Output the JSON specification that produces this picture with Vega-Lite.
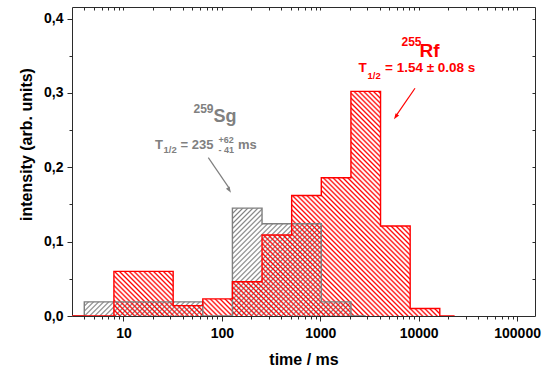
{
  "$schema": "https://vega.github.io/schema/vega-lite/v6.json",
  "width": 463,
  "height": 309,
  "autosize": {"type": "none"},
  "padding": {"left": 72, "top": 7, "right": 12, "bottom": 54},
  "background": "white",
  "view": {"stroke": "#2b2b2b", "strokeWidth": 1},
  "config": {
    "font": "Liberation Sans",
    "axis": {
      "domain": false,
      "grid": false,
      "labelFont": "Liberation Sans",
      "labelFontWeight": "bold",
      "labelFontSize": 14,
      "labelColor": "black",
      "tickColor": "#2b2b2b",
      "tickWidth": 1,
      "titleFont": "Liberation Sans",
      "titleFontWeight": "bold",
      "titleFontSize": 16,
      "titleColor": "black"
    }
  },
  "datasets": {
    "sg259": [
      {"t": 2.828, "v": 0},
      {"t": 5.657, "v": 0.019},
      {"t": 11.31, "v": 0.019},
      {"t": 22.63, "v": 0.019},
      {"t": 45.25, "v": 0.019},
      {"t": 90.51, "v": 0},
      {"t": 181.0, "v": 0.145},
      {"t": 362.0, "v": 0.124},
      {"t": 724.1, "v": 0.124},
      {"t": 1448.2, "v": 0.019},
      {"t": 2896.3, "v": 0}
    ],
    "rf255": [
      {"t": 2.828, "v": 0},
      {"t": 5.657, "v": 0},
      {"t": 11.31, "v": 0.06},
      {"t": 22.63, "v": 0.06},
      {"t": 45.25, "v": 0.014},
      {"t": 90.51, "v": 0.023},
      {"t": 181.0, "v": 0.046},
      {"t": 362.0, "v": 0.109},
      {"t": 724.1, "v": 0.162},
      {"t": 1448.2, "v": 0.186},
      {"t": 2896.3, "v": 0.302},
      {"t": 5792.6, "v": 0.121},
      {"t": 11585.2, "v": 0.010},
      {"t": 23170.5, "v": 0}
    ]
  },
  "data": {"values": [{}]},
  "resolve": {"axis": {"x": "independent", "y": "independent"}},
  "layer": [
    {
      "data": {"name": "sg259"},
      "mark": {
        "type": "area", "interpolate": "step", "clip": true,
        "fill": {
          "gradient": "linear", "x1": 0, "y1": 0, "x2": 1.2044, "y2": 0.4383,
          "stops": [
            {"offset":0,"color":"#8880"},{"offset":0.004,"color":"gray"},{"offset":0.008,"color":"#8880"},
            {"offset":0.0125,"color":"#8880"},{"offset":0.0165,"color":"gray"},{"offset":0.0205,"color":"#8880"},
            {"offset":0.025,"color":"#8880"},{"offset":0.029,"color":"gray"},{"offset":0.033,"color":"#8880"},
            {"offset":0.0375,"color":"#8880"},{"offset":0.0415,"color":"gray"},{"offset":0.0455,"color":"#8880"},
            {"offset":0.05,"color":"#8880"},{"offset":0.054,"color":"gray"},{"offset":0.058,"color":"#8880"},
            {"offset":0.0625,"color":"#8880"},{"offset":0.0665,"color":"gray"},{"offset":0.0705,"color":"#8880"},
            {"offset":0.075,"color":"#8880"},{"offset":0.079,"color":"gray"},{"offset":0.083,"color":"#8880"},
            {"offset":0.0875,"color":"#8880"},{"offset":0.0915,"color":"gray"},{"offset":0.0955,"color":"#8880"},
            {"offset":0.1,"color":"#8880"},{"offset":0.104,"color":"gray"},{"offset":0.108,"color":"#8880"},
            {"offset":0.1125,"color":"#8880"},{"offset":0.1165,"color":"gray"},{"offset":0.1205,"color":"#8880"},
            {"offset":0.125,"color":"#8880"},{"offset":0.129,"color":"gray"},{"offset":0.133,"color":"#8880"},
            {"offset":0.1375,"color":"#8880"},{"offset":0.1415,"color":"gray"},{"offset":0.1455,"color":"#8880"},
            {"offset":0.15,"color":"#8880"},{"offset":0.154,"color":"gray"},{"offset":0.158,"color":"#8880"},
            {"offset":0.1625,"color":"#8880"},{"offset":0.1665,"color":"gray"},{"offset":0.1705,"color":"#8880"},
            {"offset":0.175,"color":"#8880"},{"offset":0.179,"color":"gray"},{"offset":0.183,"color":"#8880"},
            {"offset":0.1875,"color":"#8880"},{"offset":0.1915,"color":"gray"},{"offset":0.1955,"color":"#8880"},
            {"offset":0.2,"color":"#8880"},{"offset":0.204,"color":"gray"},{"offset":0.208,"color":"#8880"},
            {"offset":0.2125,"color":"#8880"},{"offset":0.2165,"color":"gray"},{"offset":0.2205,"color":"#8880"},
            {"offset":0.225,"color":"#8880"},{"offset":0.229,"color":"gray"},{"offset":0.233,"color":"#8880"},
            {"offset":0.2375,"color":"#8880"},{"offset":0.2415,"color":"gray"},{"offset":0.2455,"color":"#8880"},
            {"offset":0.25,"color":"#8880"},{"offset":0.254,"color":"gray"},{"offset":0.258,"color":"#8880"},
            {"offset":0.2625,"color":"#8880"},{"offset":0.2665,"color":"gray"},{"offset":0.2705,"color":"#8880"},
            {"offset":0.275,"color":"#8880"},{"offset":0.279,"color":"gray"},{"offset":0.283,"color":"#8880"},
            {"offset":0.2875,"color":"#8880"},{"offset":0.2915,"color":"gray"},{"offset":0.2955,"color":"#8880"},
            {"offset":0.3,"color":"#8880"},{"offset":0.304,"color":"gray"},{"offset":0.308,"color":"#8880"},
            {"offset":0.3125,"color":"#8880"},{"offset":0.3165,"color":"gray"},{"offset":0.3205,"color":"#8880"},
            {"offset":0.325,"color":"#8880"},{"offset":0.329,"color":"gray"},{"offset":0.333,"color":"#8880"},
            {"offset":0.3375,"color":"#8880"},{"offset":0.3415,"color":"gray"},{"offset":0.3455,"color":"#8880"},
            {"offset":0.35,"color":"#8880"},{"offset":0.354,"color":"gray"},{"offset":0.358,"color":"#8880"},
            {"offset":0.3625,"color":"#8880"},{"offset":0.3665,"color":"gray"},{"offset":0.3705,"color":"#8880"},
            {"offset":0.375,"color":"#8880"},{"offset":0.379,"color":"gray"},{"offset":0.383,"color":"#8880"},
            {"offset":0.3875,"color":"#8880"},{"offset":0.3915,"color":"gray"},{"offset":0.3955,"color":"#8880"},
            {"offset":0.4,"color":"#8880"},{"offset":0.404,"color":"gray"},{"offset":0.408,"color":"#8880"},
            {"offset":0.4125,"color":"#8880"},{"offset":0.4165,"color":"gray"},{"offset":0.4205,"color":"#8880"},
            {"offset":0.425,"color":"#8880"},{"offset":0.429,"color":"gray"},{"offset":0.433,"color":"#8880"},
            {"offset":0.4375,"color":"#8880"},{"offset":0.4415,"color":"gray"},{"offset":0.4455,"color":"#8880"},
            {"offset":0.45,"color":"#8880"},{"offset":0.454,"color":"gray"},{"offset":0.458,"color":"#8880"},
            {"offset":0.4625,"color":"#8880"},{"offset":0.4665,"color":"gray"},{"offset":0.4705,"color":"#8880"},
            {"offset":0.475,"color":"#8880"},{"offset":0.479,"color":"gray"},{"offset":0.483,"color":"#8880"},
            {"offset":0.4875,"color":"#8880"},{"offset":0.4915,"color":"gray"},{"offset":0.4955,"color":"#8880"},
            {"offset":0.5,"color":"#8880"},{"offset":0.504,"color":"gray"},{"offset":0.508,"color":"#8880"},
            {"offset":0.5125,"color":"#8880"},{"offset":0.5165,"color":"gray"},{"offset":0.5205,"color":"#8880"},
            {"offset":0.525,"color":"#8880"},{"offset":0.529,"color":"gray"},{"offset":0.533,"color":"#8880"},
            {"offset":0.5375,"color":"#8880"},{"offset":0.5415,"color":"gray"},{"offset":0.5455,"color":"#8880"},
            {"offset":0.55,"color":"#8880"},{"offset":0.554,"color":"gray"},{"offset":0.558,"color":"#8880"},
            {"offset":0.5625,"color":"#8880"},{"offset":0.5665,"color":"gray"},{"offset":0.5705,"color":"#8880"},
            {"offset":0.575,"color":"#8880"},{"offset":0.579,"color":"gray"},{"offset":0.583,"color":"#8880"},
            {"offset":0.5875,"color":"#8880"},{"offset":0.5915,"color":"gray"},{"offset":0.5955,"color":"#8880"},
            {"offset":0.6,"color":"#8880"},{"offset":0.604,"color":"gray"},{"offset":0.608,"color":"#8880"},
            {"offset":0.6125,"color":"#8880"},{"offset":0.6165,"color":"gray"},{"offset":0.6205,"color":"#8880"},
            {"offset":0.625,"color":"#8880"},{"offset":0.629,"color":"gray"},{"offset":0.633,"color":"#8880"},
            {"offset":0.6375,"color":"#8880"},{"offset":0.6415,"color":"gray"},{"offset":0.6455,"color":"#8880"},
            {"offset":0.65,"color":"#8880"},{"offset":0.654,"color":"gray"},{"offset":0.658,"color":"#8880"},
            {"offset":0.6625,"color":"#8880"},{"offset":0.6665,"color":"gray"},{"offset":0.6705,"color":"#8880"},
            {"offset":0.675,"color":"#8880"},{"offset":0.679,"color":"gray"},{"offset":0.683,"color":"#8880"},
            {"offset":0.6875,"color":"#8880"},{"offset":0.6915,"color":"gray"},{"offset":0.6955,"color":"#8880"},
            {"offset":0.7,"color":"#8880"},{"offset":0.704,"color":"gray"},{"offset":0.708,"color":"#8880"},
            {"offset":0.7125,"color":"#8880"},{"offset":0.7165,"color":"gray"},{"offset":0.7205,"color":"#8880"},
            {"offset":0.725,"color":"#8880"},{"offset":0.729,"color":"gray"},{"offset":0.733,"color":"#8880"},
            {"offset":0.7375,"color":"#8880"},{"offset":0.7415,"color":"gray"},{"offset":0.7455,"color":"#8880"},
            {"offset":0.75,"color":"#8880"},{"offset":0.754,"color":"gray"},{"offset":0.758,"color":"#8880"},
            {"offset":0.7625,"color":"#8880"},{"offset":0.7665,"color":"gray"},{"offset":0.7705,"color":"#8880"},
            {"offset":0.775,"color":"#8880"},{"offset":0.779,"color":"gray"},{"offset":0.783,"color":"#8880"},
            {"offset":0.7875,"color":"#8880"},{"offset":0.7915,"color":"gray"},{"offset":0.7955,"color":"#8880"},
            {"offset":0.8,"color":"#8880"},{"offset":0.804,"color":"gray"},{"offset":0.808,"color":"#8880"},
            {"offset":0.8125,"color":"#8880"},{"offset":0.8165,"color":"gray"},{"offset":0.8205,"color":"#8880"},
            {"offset":0.825,"color":"#8880"},{"offset":0.829,"color":"gray"},{"offset":0.833,"color":"#8880"},
            {"offset":0.8375,"color":"#8880"},{"offset":0.8415,"color":"gray"},{"offset":0.8455,"color":"#8880"},
            {"offset":0.85,"color":"#8880"},{"offset":0.854,"color":"gray"},{"offset":0.858,"color":"#8880"},
            {"offset":0.8625,"color":"#8880"},{"offset":0.8665,"color":"gray"},{"offset":0.8705,"color":"#8880"},
            {"offset":0.875,"color":"#8880"},{"offset":0.879,"color":"gray"},{"offset":0.883,"color":"#8880"},
            {"offset":0.8875,"color":"#8880"},{"offset":0.8915,"color":"gray"},{"offset":0.8955,"color":"#8880"},
            {"offset":0.9,"color":"#8880"},{"offset":0.904,"color":"gray"},{"offset":0.908,"color":"#8880"},
            {"offset":0.9125,"color":"#8880"},{"offset":0.9165,"color":"gray"},{"offset":0.9205,"color":"#8880"},
            {"offset":0.925,"color":"#8880"},{"offset":0.929,"color":"gray"},{"offset":0.933,"color":"#8880"},
            {"offset":0.9375,"color":"#8880"},{"offset":0.9415,"color":"gray"},{"offset":0.9455,"color":"#8880"},
            {"offset":0.95,"color":"#8880"},{"offset":0.954,"color":"gray"},{"offset":0.958,"color":"#8880"},
            {"offset":0.9625,"color":"#8880"},{"offset":0.9665,"color":"gray"},{"offset":0.9705,"color":"#8880"},
            {"offset":0.975,"color":"#8880"},{"offset":0.979,"color":"gray"},{"offset":0.983,"color":"#8880"},
            {"offset":0.9875,"color":"#8880"},{"offset":0.9915,"color":"gray"},{"offset":0.9955,"color":"#8880"}
          ]
        }
      },
      "encoding": {
        "x": {
          "field": "t", "type": "quantitative",
          "scale": {"type": "log", "domain": [3, 152000], "nice": false},
          "axis": {
            "orient": "bottom", "values": [10, 100, 1000, 10000, 100000], "format": "d",
            "tickSize": 5, "labelPadding": 5, "labelFlush": false, "labelOverlap": false,
            "title": "time / ms", "titleX": 231.5, "titleY": 48, "titleBaseline": "alphabetic", "titleAlign": "center"
          }
        },
        "y": {
          "field": "v", "type": "quantitative",
          "scale": {"domain": [0, 0.4155], "nice": false, "zero": false},
          "axis": {
            "orient": "left", "values": [0, 0.1, 0.2, 0.3, 0.4],
            "labelExpr": "replace(format(datum.value, '.1f'), '.', ',')",
            "tickSize": 5, "labelPadding": 4,
            "title": "intensity (arb. units)", "titleX": -41, "titleY": 137,
            "titleAngle": -90, "titleBaseline": "alphabetic", "titleAlign": "center"
          }
        }
      }
    },
    {
      "data": {"name": "rf255"},
      "mark": {
        "type": "area", "interpolate": "step", "clip": true,
        "fill": {
          "gradient": "linear", "x1": 0, "y1": 1, "x2": 1.1814, "y2": 0.3111,
          "stops": [
            {"offset":0,"color":"#f000"},{"offset":0.003,"color":"red"},{"offset":0.006,"color":"#f000"},
            {"offset":0.008,"color":"#f000"},{"offset":0.011,"color":"red"},{"offset":0.014,"color":"#f000"},
            {"offset":0.016,"color":"#f000"},{"offset":0.019,"color":"red"},{"offset":0.022,"color":"#f000"},
            {"offset":0.024,"color":"#f000"},{"offset":0.027,"color":"red"},{"offset":0.030,"color":"#f000"},
            {"offset":0.032,"color":"#f000"},{"offset":0.035,"color":"red"},{"offset":0.038,"color":"#f000"},
            {"offset":0.040,"color":"#f000"},{"offset":0.043,"color":"red"},{"offset":0.046,"color":"#f000"},
            {"offset":0.048,"color":"#f000"},{"offset":0.051,"color":"red"},{"offset":0.054,"color":"#f000"},
            {"offset":0.056,"color":"#f000"},{"offset":0.059,"color":"red"},{"offset":0.062,"color":"#f000"},
            {"offset":0.064,"color":"#f000"},{"offset":0.067,"color":"red"},{"offset":0.070,"color":"#f000"},
            {"offset":0.072,"color":"#f000"},{"offset":0.075,"color":"red"},{"offset":0.078,"color":"#f000"},
            {"offset":0.080,"color":"#f000"},{"offset":0.083,"color":"red"},{"offset":0.086,"color":"#f000"},
            {"offset":0.088,"color":"#f000"},{"offset":0.091,"color":"red"},{"offset":0.094,"color":"#f000"},
            {"offset":0.096,"color":"#f000"},{"offset":0.099,"color":"red"},{"offset":0.102,"color":"#f000"},
            {"offset":0.104,"color":"#f000"},{"offset":0.107,"color":"red"},{"offset":0.110,"color":"#f000"},
            {"offset":0.112,"color":"#f000"},{"offset":0.115,"color":"red"},{"offset":0.118,"color":"#f000"},
            {"offset":0.120,"color":"#f000"},{"offset":0.123,"color":"red"},{"offset":0.126,"color":"#f000"},
            {"offset":0.128,"color":"#f000"},{"offset":0.131,"color":"red"},{"offset":0.134,"color":"#f000"},
            {"offset":0.136,"color":"#f000"},{"offset":0.139,"color":"red"},{"offset":0.142,"color":"#f000"},
            {"offset":0.144,"color":"#f000"},{"offset":0.147,"color":"red"},{"offset":0.150,"color":"#f000"},
            {"offset":0.152,"color":"#f000"},{"offset":0.155,"color":"red"},{"offset":0.158,"color":"#f000"},
            {"offset":0.160,"color":"#f000"},{"offset":0.163,"color":"red"},{"offset":0.166,"color":"#f000"},
            {"offset":0.168,"color":"#f000"},{"offset":0.171,"color":"red"},{"offset":0.174,"color":"#f000"},
            {"offset":0.176,"color":"#f000"},{"offset":0.179,"color":"red"},{"offset":0.182,"color":"#f000"},
            {"offset":0.184,"color":"#f000"},{"offset":0.187,"color":"red"},{"offset":0.190,"color":"#f000"},
            {"offset":0.192,"color":"#f000"},{"offset":0.195,"color":"red"},{"offset":0.198,"color":"#f000"},
            {"offset":0.200,"color":"#f000"},{"offset":0.203,"color":"red"},{"offset":0.206,"color":"#f000"},
            {"offset":0.208,"color":"#f000"},{"offset":0.211,"color":"red"},{"offset":0.214,"color":"#f000"},
            {"offset":0.216,"color":"#f000"},{"offset":0.219,"color":"red"},{"offset":0.222,"color":"#f000"},
            {"offset":0.224,"color":"#f000"},{"offset":0.227,"color":"red"},{"offset":0.230,"color":"#f000"},
            {"offset":0.232,"color":"#f000"},{"offset":0.235,"color":"red"},{"offset":0.238,"color":"#f000"},
            {"offset":0.240,"color":"#f000"},{"offset":0.243,"color":"red"},{"offset":0.246,"color":"#f000"},
            {"offset":0.248,"color":"#f000"},{"offset":0.251,"color":"red"},{"offset":0.254,"color":"#f000"},
            {"offset":0.256,"color":"#f000"},{"offset":0.259,"color":"red"},{"offset":0.262,"color":"#f000"},
            {"offset":0.264,"color":"#f000"},{"offset":0.267,"color":"red"},{"offset":0.270,"color":"#f000"},
            {"offset":0.272,"color":"#f000"},{"offset":0.275,"color":"red"},{"offset":0.278,"color":"#f000"},
            {"offset":0.280,"color":"#f000"},{"offset":0.283,"color":"red"},{"offset":0.286,"color":"#f000"},
            {"offset":0.288,"color":"#f000"},{"offset":0.291,"color":"red"},{"offset":0.294,"color":"#f000"},
            {"offset":0.296,"color":"#f000"},{"offset":0.299,"color":"red"},{"offset":0.302,"color":"#f000"},
            {"offset":0.304,"color":"#f000"},{"offset":0.307,"color":"red"},{"offset":0.310,"color":"#f000"},
            {"offset":0.312,"color":"#f000"},{"offset":0.315,"color":"red"},{"offset":0.318,"color":"#f000"},
            {"offset":0.320,"color":"#f000"},{"offset":0.323,"color":"red"},{"offset":0.326,"color":"#f000"},
            {"offset":0.328,"color":"#f000"},{"offset":0.331,"color":"red"},{"offset":0.334,"color":"#f000"},
            {"offset":0.336,"color":"#f000"},{"offset":0.339,"color":"red"},{"offset":0.342,"color":"#f000"},
            {"offset":0.344,"color":"#f000"},{"offset":0.347,"color":"red"},{"offset":0.350,"color":"#f000"},
            {"offset":0.352,"color":"#f000"},{"offset":0.355,"color":"red"},{"offset":0.358,"color":"#f000"},
            {"offset":0.360,"color":"#f000"},{"offset":0.363,"color":"red"},{"offset":0.366,"color":"#f000"},
            {"offset":0.368,"color":"#f000"},{"offset":0.371,"color":"red"},{"offset":0.374,"color":"#f000"},
            {"offset":0.376,"color":"#f000"},{"offset":0.379,"color":"red"},{"offset":0.382,"color":"#f000"},
            {"offset":0.384,"color":"#f000"},{"offset":0.387,"color":"red"},{"offset":0.390,"color":"#f000"},
            {"offset":0.392,"color":"#f000"},{"offset":0.395,"color":"red"},{"offset":0.398,"color":"#f000"},
            {"offset":0.400,"color":"#f000"},{"offset":0.403,"color":"red"},{"offset":0.406,"color":"#f000"},
            {"offset":0.408,"color":"#f000"},{"offset":0.411,"color":"red"},{"offset":0.414,"color":"#f000"},
            {"offset":0.416,"color":"#f000"},{"offset":0.419,"color":"red"},{"offset":0.422,"color":"#f000"},
            {"offset":0.424,"color":"#f000"},{"offset":0.427,"color":"red"},{"offset":0.430,"color":"#f000"},
            {"offset":0.432,"color":"#f000"},{"offset":0.435,"color":"red"},{"offset":0.438,"color":"#f000"},
            {"offset":0.440,"color":"#f000"},{"offset":0.443,"color":"red"},{"offset":0.446,"color":"#f000"},
            {"offset":0.448,"color":"#f000"},{"offset":0.451,"color":"red"},{"offset":0.454,"color":"#f000"},
            {"offset":0.456,"color":"#f000"},{"offset":0.459,"color":"red"},{"offset":0.462,"color":"#f000"},
            {"offset":0.464,"color":"#f000"},{"offset":0.467,"color":"red"},{"offset":0.470,"color":"#f000"},
            {"offset":0.472,"color":"#f000"},{"offset":0.475,"color":"red"},{"offset":0.478,"color":"#f000"},
            {"offset":0.480,"color":"#f000"},{"offset":0.483,"color":"red"},{"offset":0.486,"color":"#f000"},
            {"offset":0.488,"color":"#f000"},{"offset":0.491,"color":"red"},{"offset":0.494,"color":"#f000"},
            {"offset":0.496,"color":"#f000"},{"offset":0.499,"color":"red"},{"offset":0.502,"color":"#f000"},
            {"offset":0.504,"color":"#f000"},{"offset":0.507,"color":"red"},{"offset":0.510,"color":"#f000"},
            {"offset":0.512,"color":"#f000"},{"offset":0.515,"color":"red"},{"offset":0.518,"color":"#f000"},
            {"offset":0.520,"color":"#f000"},{"offset":0.523,"color":"red"},{"offset":0.526,"color":"#f000"},
            {"offset":0.528,"color":"#f000"},{"offset":0.531,"color":"red"},{"offset":0.534,"color":"#f000"},
            {"offset":0.536,"color":"#f000"},{"offset":0.539,"color":"red"},{"offset":0.542,"color":"#f000"},
            {"offset":0.544,"color":"#f000"},{"offset":0.547,"color":"red"},{"offset":0.550,"color":"#f000"},
            {"offset":0.552,"color":"#f000"},{"offset":0.555,"color":"red"},{"offset":0.558,"color":"#f000"},
            {"offset":0.560,"color":"#f000"},{"offset":0.563,"color":"red"},{"offset":0.566,"color":"#f000"},
            {"offset":0.568,"color":"#f000"},{"offset":0.571,"color":"red"},{"offset":0.574,"color":"#f000"},
            {"offset":0.576,"color":"#f000"},{"offset":0.579,"color":"red"},{"offset":0.582,"color":"#f000"},
            {"offset":0.584,"color":"#f000"},{"offset":0.587,"color":"red"},{"offset":0.590,"color":"#f000"},
            {"offset":0.592,"color":"#f000"},{"offset":0.595,"color":"red"},{"offset":0.598,"color":"#f000"},
            {"offset":0.600,"color":"#f000"},{"offset":0.603,"color":"red"},{"offset":0.606,"color":"#f000"},
            {"offset":0.608,"color":"#f000"},{"offset":0.611,"color":"red"},{"offset":0.614,"color":"#f000"},
            {"offset":0.616,"color":"#f000"},{"offset":0.619,"color":"red"},{"offset":0.622,"color":"#f000"},
            {"offset":0.624,"color":"#f000"},{"offset":0.627,"color":"red"},{"offset":0.630,"color":"#f000"},
            {"offset":0.632,"color":"#f000"},{"offset":0.635,"color":"red"},{"offset":0.638,"color":"#f000"},
            {"offset":0.640,"color":"#f000"},{"offset":0.643,"color":"red"},{"offset":0.646,"color":"#f000"},
            {"offset":0.648,"color":"#f000"},{"offset":0.651,"color":"red"},{"offset":0.654,"color":"#f000"},
            {"offset":0.656,"color":"#f000"},{"offset":0.659,"color":"red"},{"offset":0.662,"color":"#f000"},
            {"offset":0.664,"color":"#f000"},{"offset":0.667,"color":"red"},{"offset":0.670,"color":"#f000"},
            {"offset":0.672,"color":"#f000"},{"offset":0.675,"color":"red"},{"offset":0.678,"color":"#f000"},
            {"offset":0.680,"color":"#f000"},{"offset":0.683,"color":"red"},{"offset":0.686,"color":"#f000"},
            {"offset":0.688,"color":"#f000"},{"offset":0.691,"color":"red"},{"offset":0.694,"color":"#f000"},
            {"offset":0.696,"color":"#f000"},{"offset":0.699,"color":"red"},{"offset":0.702,"color":"#f000"},
            {"offset":0.704,"color":"#f000"},{"offset":0.707,"color":"red"},{"offset":0.710,"color":"#f000"},
            {"offset":0.712,"color":"#f000"},{"offset":0.715,"color":"red"},{"offset":0.718,"color":"#f000"},
            {"offset":0.720,"color":"#f000"},{"offset":0.723,"color":"red"},{"offset":0.726,"color":"#f000"},
            {"offset":0.728,"color":"#f000"},{"offset":0.731,"color":"red"},{"offset":0.734,"color":"#f000"},
            {"offset":0.736,"color":"#f000"},{"offset":0.739,"color":"red"},{"offset":0.742,"color":"#f000"},
            {"offset":0.744,"color":"#f000"},{"offset":0.747,"color":"red"},{"offset":0.750,"color":"#f000"},
            {"offset":0.752,"color":"#f000"},{"offset":0.755,"color":"red"},{"offset":0.758,"color":"#f000"},
            {"offset":0.760,"color":"#f000"},{"offset":0.763,"color":"red"},{"offset":0.766,"color":"#f000"},
            {"offset":0.768,"color":"#f000"},{"offset":0.771,"color":"red"},{"offset":0.774,"color":"#f000"},
            {"offset":0.776,"color":"#f000"},{"offset":0.779,"color":"red"},{"offset":0.782,"color":"#f000"},
            {"offset":0.784,"color":"#f000"},{"offset":0.787,"color":"red"},{"offset":0.790,"color":"#f000"},
            {"offset":0.792,"color":"#f000"},{"offset":0.795,"color":"red"},{"offset":0.798,"color":"#f000"},
            {"offset":0.800,"color":"#f000"},{"offset":0.803,"color":"red"},{"offset":0.806,"color":"#f000"},
            {"offset":0.808,"color":"#f000"},{"offset":0.811,"color":"red"},{"offset":0.814,"color":"#f000"},
            {"offset":0.816,"color":"#f000"},{"offset":0.819,"color":"red"},{"offset":0.822,"color":"#f000"},
            {"offset":0.824,"color":"#f000"},{"offset":0.827,"color":"red"},{"offset":0.830,"color":"#f000"},
            {"offset":0.832,"color":"#f000"},{"offset":0.835,"color":"red"},{"offset":0.838,"color":"#f000"},
            {"offset":0.840,"color":"#f000"},{"offset":0.843,"color":"red"},{"offset":0.846,"color":"#f000"},
            {"offset":0.848,"color":"#f000"},{"offset":0.851,"color":"red"},{"offset":0.854,"color":"#f000"},
            {"offset":0.856,"color":"#f000"},{"offset":0.859,"color":"red"},{"offset":0.862,"color":"#f000"},
            {"offset":0.864,"color":"#f000"},{"offset":0.867,"color":"red"},{"offset":0.870,"color":"#f000"},
            {"offset":0.872,"color":"#f000"},{"offset":0.875,"color":"red"},{"offset":0.878,"color":"#f000"},
            {"offset":0.880,"color":"#f000"},{"offset":0.883,"color":"red"},{"offset":0.886,"color":"#f000"},
            {"offset":0.888,"color":"#f000"},{"offset":0.891,"color":"red"},{"offset":0.894,"color":"#f000"},
            {"offset":0.896,"color":"#f000"},{"offset":0.899,"color":"red"},{"offset":0.902,"color":"#f000"},
            {"offset":0.904,"color":"#f000"},{"offset":0.907,"color":"red"},{"offset":0.910,"color":"#f000"},
            {"offset":0.912,"color":"#f000"},{"offset":0.915,"color":"red"},{"offset":0.918,"color":"#f000"},
            {"offset":0.920,"color":"#f000"},{"offset":0.923,"color":"red"},{"offset":0.926,"color":"#f000"},
            {"offset":0.928,"color":"#f000"},{"offset":0.931,"color":"red"},{"offset":0.934,"color":"#f000"},
            {"offset":0.936,"color":"#f000"},{"offset":0.939,"color":"red"},{"offset":0.942,"color":"#f000"},
            {"offset":0.944,"color":"#f000"},{"offset":0.947,"color":"red"},{"offset":0.950,"color":"#f000"},
            {"offset":0.952,"color":"#f000"},{"offset":0.955,"color":"red"},{"offset":0.958,"color":"#f000"},
            {"offset":0.960,"color":"#f000"},{"offset":0.963,"color":"red"},{"offset":0.966,"color":"#f000"},
            {"offset":0.968,"color":"#f000"},{"offset":0.971,"color":"red"},{"offset":0.974,"color":"#f000"},
            {"offset":0.976,"color":"#f000"},{"offset":0.979,"color":"red"},{"offset":0.982,"color":"#f000"},
            {"offset":0.984,"color":"#f000"},{"offset":0.987,"color":"red"},{"offset":0.990,"color":"#f000"},
            {"offset":0.992,"color":"#f000"},{"offset":0.995,"color":"red"},{"offset":0.998,"color":"#f000"}
          ]
        }
      },
      "encoding": {
        "x": {
          "field": "t", "type": "quantitative",
          "axis": {
            "orient": "bottom", "labels": false, "title": null, "tickSize": 3,
            "values": [4, 5, 6, 7, 8, 9, 20, 30, 40, 50, 60, 70, 80, 90, 200, 300, 400, 500, 600, 700, 800, 900, 2000, 3000, 4000, 5000, 6000, 7000, 8000, 9000, 20000, 30000, 40000, 50000, 60000, 70000, 80000, 90000]
          }
        },
        "y": {
          "field": "v", "type": "quantitative",
          "axis": {"orient": "left", "labels": false, "title": null, "tickSize": 3, "values": [0.05, 0.15, 0.25, 0.35]}
        }
      }
    },
    {
      "data": {"name": "sg259"},
      "mark": {"type": "line", "interpolate": "step", "stroke": "#7f7f7f", "strokeWidth": 1.4, "clip": true},
      "encoding": {
        "x": {
          "field": "t", "type": "quantitative",
          "axis": {
            "orient": "top", "labels": false, "title": null, "tickSize": -3,
            "values": [4, 5, 6, 7, 8, 9, 10, 20, 30, 40, 50, 60, 70, 80, 90, 100, 200, 300, 400, 500, 600, 700, 800, 900, 1000, 2000, 3000, 4000, 5000, 6000, 7000, 8000, 9000, 10000, 20000, 30000, 40000, 50000, 60000, 70000, 80000, 90000, 100000]
          }
        },
        "y": {
          "field": "v", "type": "quantitative",
          "axis": {"orient": "right", "labels": false, "title": null, "tickSize": -3, "values": [0.05, 0.1, 0.15, 0.2, 0.25, 0.3, 0.35, 0.4]}
        }
      }
    },
    {
      "data": {"name": "rf255"},
      "mark": {"type": "line", "interpolate": "step", "stroke": "#ff0000", "strokeWidth": 1.4, "clip": true},
      "encoding": {
        "x": {"field": "t", "type": "quantitative", "axis": null},
        "y": {"field": "v", "type": "quantitative", "axis": null}
      }
    },
    {
      "mark": {"type": "rule", "stroke": "#7f7f7f", "strokeWidth": 1.2},
      "encoding": {
        "x": {"datum": 72.8, "type": "quantitative", "axis": null},
        "y": {"datum": 0.2129, "type": "quantitative", "axis": null},
        "x2": {"datum": 119},
        "y2": {"datum": 0.1715}
      }
    },
    {
      "mark": {"type": "point", "shape": "M0,0L-0.6,1.7L0.6,1.7Z", "filled": true, "color": "#7f7f7f", "size": 50, "angle": 147, "opacity": 1},
      "encoding": {
        "x": {"datum": 123.8, "type": "quantitative", "axis": null},
        "y": {"datum": 0.1658, "type": "quantitative", "axis": null}
      }
    },
    {
      "mark": {"type": "rule", "stroke": "#ff0000", "strokeWidth": 1.2},
      "encoding": {
        "x": {"datum": 9173, "type": "quantitative", "axis": null},
        "y": {"datum": 0.3062, "type": "quantitative", "axis": null},
        "x2": {"datum": 5950},
        "y2": {"datum": 0.270}
      }
    },
    {
      "mark": {"type": "point", "shape": "M0,0L-0.6,1.7L0.6,1.7Z", "filled": true, "color": "#ff0000", "size": 50, "angle": 214, "opacity": 1},
      "encoding": {
        "x": {"datum": 5613, "type": "quantitative", "axis": null},
        "y": {"datum": 0.2645, "type": "quantitative", "axis": null}
      }
    },
    {
      "mark": {"type": "text", "text": "259", "align": "left", "baseline": "alphabetic", "fontSize": 12, "fontWeight": "bold", "color": "#808080"},
      "encoding": {
        "x": {"datum": 51.5, "type": "quantitative", "axis": null},
        "y": {"datum": 0.273, "type": "quantitative", "axis": null}
      }
    },
    {
      "mark": {"type": "text", "text": "Sg", "align": "left", "baseline": "alphabetic", "fontSize": 18, "fontWeight": "bold", "color": "#808080"},
      "encoding": {
        "x": {"datum": 82.2, "type": "quantitative", "axis": null},
        "y": {"datum": 0.2602, "type": "quantitative", "axis": null}
      }
    },
    {
      "mark": {"type": "text", "text": "T", "align": "left", "baseline": "alphabetic", "fontSize": 13, "fontWeight": "bold", "color": "#808080"},
      "encoding": {
        "x": {"datum": 20.92, "type": "quantitative", "axis": null},
        "y": {"datum": 0.2252, "type": "quantitative", "axis": null}
      }
    },
    {
      "mark": {"type": "text", "text": "1/2", "align": "left", "baseline": "alphabetic", "fontSize": 9.5, "fontWeight": "bold", "color": "#808080"},
      "encoding": {
        "x": {"datum": 25.52, "type": "quantitative", "axis": null},
        "y": {"datum": 0.2192, "type": "quantitative", "axis": null}
      }
    },
    {
      "mark": {"type": "text", "text": "= 235", "align": "left", "baseline": "alphabetic", "fontSize": 13, "fontWeight": "bold", "color": "#808080"},
      "encoding": {
        "x": {"datum": 37.97, "type": "quantitative", "axis": null},
        "y": {"datum": 0.2252, "type": "quantitative", "axis": null}
      }
    },
    {
      "mark": {"type": "text", "text": "+62", "align": "left", "baseline": "alphabetic", "fontSize": 9, "fontWeight": "bold", "color": "#808080"},
      "encoding": {
        "x": {"datum": 92.4, "type": "quantitative", "axis": null},
        "y": {"datum": 0.2326, "type": "quantitative", "axis": null}
      }
    },
    {
      "mark": {"type": "text", "text": "- 41", "align": "left", "baseline": "alphabetic", "fontSize": 9, "fontWeight": "bold", "color": "#808080"},
      "encoding": {
        "x": {"datum": 92.4, "type": "quantitative", "axis": null},
        "y": {"datum": 0.2198, "type": "quantitative", "axis": null}
      }
    },
    {
      "mark": {"type": "text", "text": "ms", "align": "left", "baseline": "alphabetic", "fontSize": 13, "fontWeight": "bold", "color": "#808080"},
      "encoding": {
        "x": {"datum": 145.8, "type": "quantitative", "axis": null},
        "y": {"datum": 0.2252, "type": "quantitative", "axis": null}
      }
    },
    {
      "mark": {"type": "text", "text": "255", "align": "left", "baseline": "alphabetic", "fontSize": 12, "fontWeight": "bold", "color": "#ff0000"},
      "encoding": {
        "x": {"datum": 6688, "type": "quantitative", "axis": null},
        "y": {"datum": 0.3624, "type": "quantitative", "axis": null}
      }
    },
    {
      "mark": {"type": "text", "text": "Rf", "align": "left", "baseline": "alphabetic", "fontSize": 19, "fontWeight": "bold", "color": "#ff0000"},
      "encoding": {
        "x": {"datum": 10191, "type": "quantitative", "axis": null},
        "y": {"datum": 0.3489, "type": "quantitative", "axis": null}
      }
    },
    {
      "mark": {"type": "text", "text": "T", "align": "left", "baseline": "alphabetic", "fontSize": 13.5, "fontWeight": "bold", "color": "#ff0000"},
      "encoding": {
        "x": {"datum": 2446, "type": "quantitative", "axis": null},
        "y": {"datum": 0.3281, "type": "quantitative", "axis": null}
      }
    },
    {
      "mark": {"type": "text", "text": "1/2", "align": "left", "baseline": "alphabetic", "fontSize": 9.5, "fontWeight": "bold", "color": "#ff0000"},
      "encoding": {
        "x": {"datum": 3019, "type": "quantitative", "axis": null},
        "y": {"datum": 0.3193, "type": "quantitative", "axis": null}
      }
    },
    {
      "mark": {"type": "text", "text": "= 1.54 ± 0.08 s", "align": "left", "baseline": "alphabetic", "fontSize": 13.5, "fontWeight": "bold", "color": "#ff0000"},
      "encoding": {
        "x": {"datum": 4546, "type": "quantitative", "axis": null},
        "y": {"datum": 0.3281, "type": "quantitative", "axis": null}
      }
    }
  ]
}
